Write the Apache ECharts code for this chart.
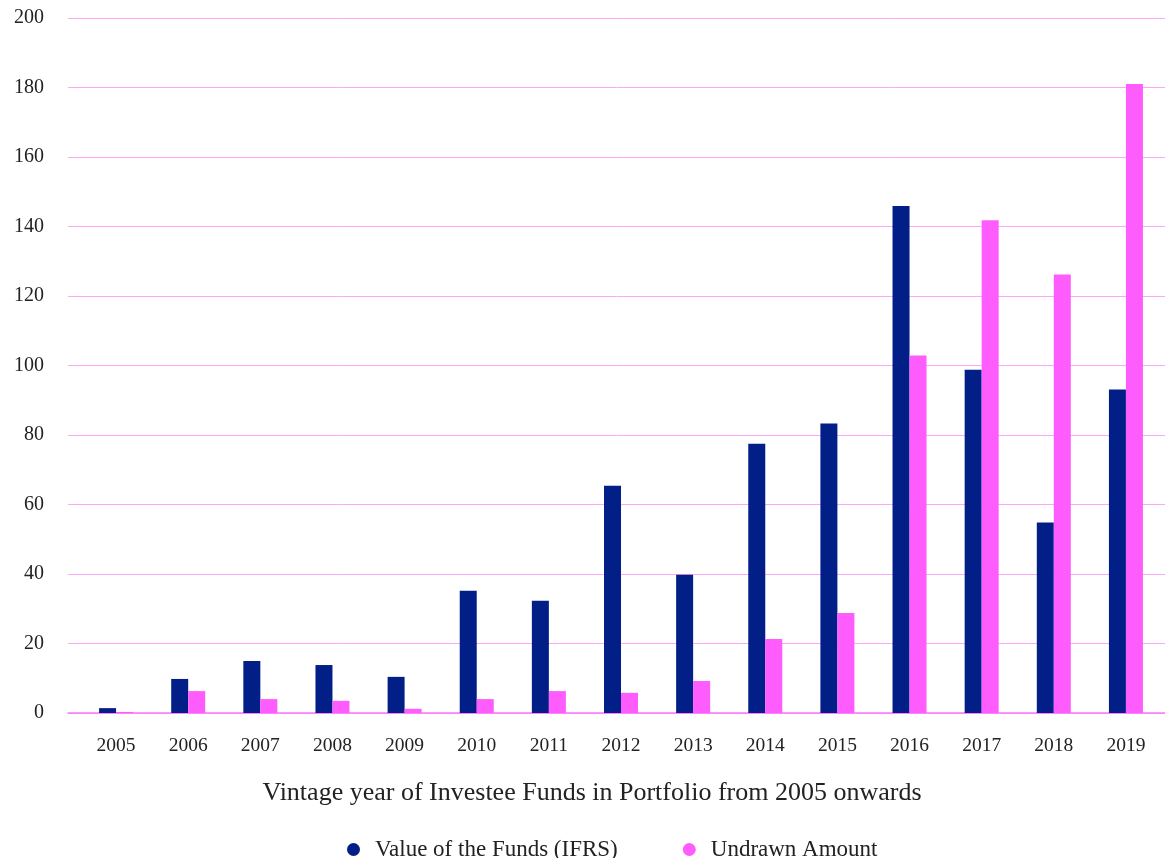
<!DOCTYPE html>
<html>
<head>
<meta charset="utf-8">
<script src="https://cdn.jsdelivr.net/npm/echarts@6/dist/echarts.min.js"></script>
<style>
  html, body { margin: 0; padding: 0; background: #fff; }
  #chart { width: 1165px; height: 858px; }
</style>
</head>
<body>
<div id="chart"></div>
<script>
var years = ['2005', '2006', '2007', '2008', '2009', '2010', '2011', '2012', '2013', '2014', '2015', '2016', '2017', '2018', '2019'];
var fundValue = [1.4, 9.8, 15.0, 13.8, 10.4, 35.2, 32.3, 65.4, 39.8, 77.5, 83.3, 145.9, 98.8, 54.8, 93.1];
var undrawn = [0.3, 6.3, 4.0, 3.5, 1.2, 4.0, 6.3, 5.8, 9.2, 21.3, 28.8, 102.9, 141.8, 126.2, 181.0];

var font = 'Liberation Serif';
var myChart = echarts.init(document.getElementById('chart'));

var option = {
    backgroundColor: '#fff',
    animation: false,
    textStyle: { fontFamily: font },
    // grid 0 only carries the gridlines, grid 1 carries the bars
    grid: [
        { left: 68, right: 0, top: 18, bottom: 145 },
        { left: 80, right: 3, top: 18, bottom: 145 }
    ],
    legend: {
        top: 833,
        left: 342,
        icon: 'circle',
        itemWidth: 13,
        itemHeight: 13,
        itemGap: 65,
        textStyle: { fontFamily: font, fontSize: 23, color: '#222', padding: [0, 0, 0, 10] },
        data: ['Value of the Funds (IFRS)', 'Undrawn Amount']
    },
    xAxis: [{
        gridIndex: 0,
        type: 'value',
        min: 0,
        max: 1,
        axisLabel: { show: false },
        axisTick: { show: false },
        splitLine: { show: false },
        axisLine: { show: true, lineStyle: { color: '#ff77fb', width: 1.5 } }
    }, {
        gridIndex: 1,
        type: 'category',
        data: years,
        axisLine: { show: false },
        axisTick: { show: false },
        axisLabel: { color: '#222', fontSize: 19.5, fontFamily: font, margin: 23 },
        name: 'Vintage year of Investee Funds in Portfolio from 2005 onwards',
        nameLocation: 'middle',
        nameGap: 67,
        nameTextStyle: { color: '#222', fontSize: 26, fontFamily: font, padding: [0, 58, 0, 0] }
    }],
    yAxis: [{
        gridIndex: 0,
        type: 'value',
        min: 0,
        max: 200,
        interval: 20,
        axisLine: { show: false },
        axisTick: { show: false },
        axisLabel: { color: '#222', fontSize: 20, fontFamily: font, margin: 24 },
        splitLine: { lineStyle: { color: '#fba8f8', width: 1 } }
    }, {
        gridIndex: 1,
        type: 'value',
        min: 0,
        max: 200,
        interval: 20,
        show: false,
        splitLine: { show: false }
    }],
    series: [{
        name: 'Value of the Funds (IFRS)',
        type: 'bar',
        xAxisIndex: 1,
        yAxisIndex: 1,
        barWidth: 17,
        barGap: '0%',
        itemStyle: { color: '#021e87' },
        data: fundValue
    }, {
        name: 'Undrawn Amount',
        type: 'bar',
        xAxisIndex: 1,
        yAxisIndex: 1,
        barWidth: 17,
        barGap: '0%',
        itemStyle: { color: '#ff5cfd' },
        data: undrawn
    }]
};

myChart.setOption(option);
</script>
</body>
</html>
